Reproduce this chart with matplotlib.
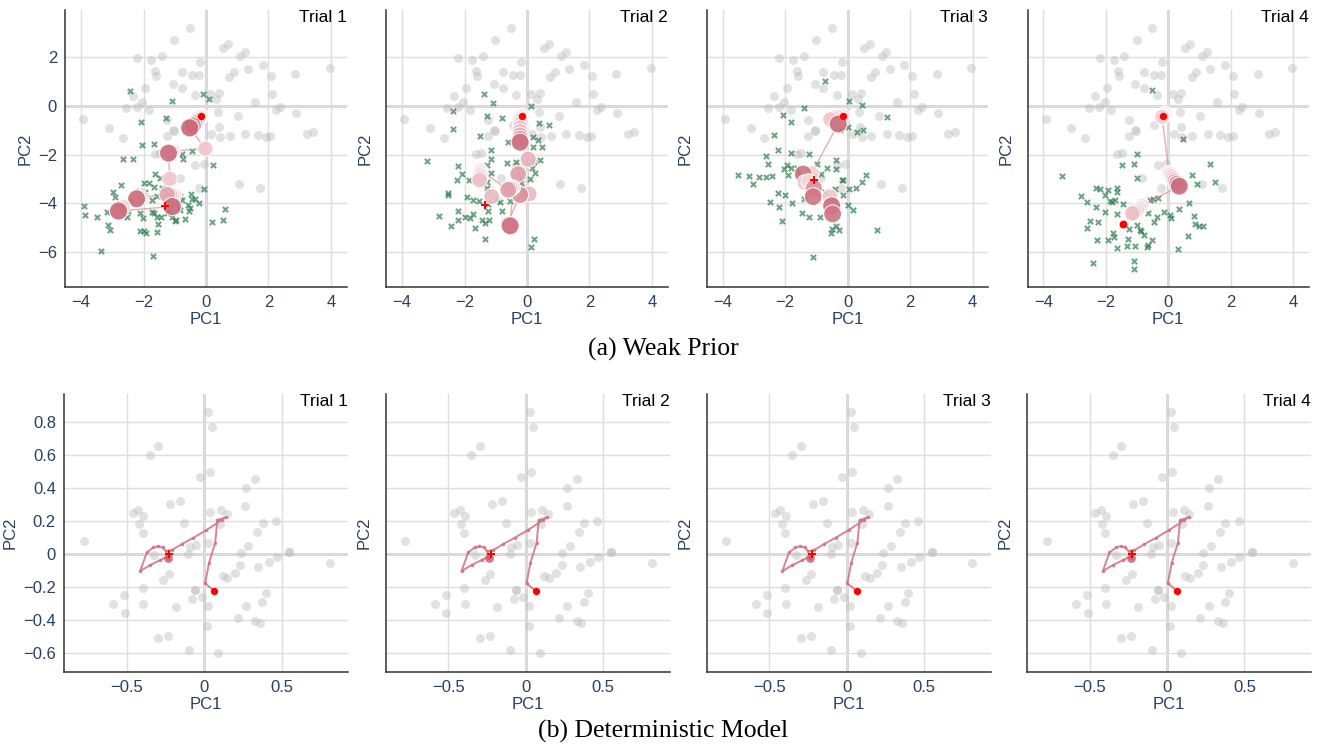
import numpy as np
import matplotlib.pyplot as plt
from matplotlib.colors import LinearSegmentedColormap

# ---- data: weak prior (top row) ----
bg_x = [-0.51, -1.01, -2.20, -1.75, -1.41, -1.62, -1.59, -0.78, -0.45, -0.22, -0.19, 0.53, 0.71, 1.09,
        1.24, 1.35, 1.82, 0.89, 0.75, 2.07, 2.86, 3.96, -1.05, -0.78, -1.95, -2.34, -2.04, -2.55, -2.21,
        -1.82, -0.35, 0.14, 0.42, 0.32, 1.57, 2.11, 2.37, 2.25, 2.89, 1.01, 0.37, -3.93, -3.10, -2.67,
        -1.26, -1.05, -1.04, 0.17, 0.41, 0.45, -0.46, -1.26, 0.76, 1.26, 1.65, 1.91, 2.06, 3.22, 3.43,
        -1.63, -1.48, -0.34, -0.07, -0.84, -0.22, 1.07, 1.73]
bg_y = [3.22, 2.73, 1.96, 1.88, 2.05, 1.44, 1.23, 1.40, 1.26, 1.27, 1.82, 2.40, 2.55, 2.05,
        2.21, 1.52, 1.68, 1.38, 1.21, 1.23, 1.33, 1.55, 0.90, 0.75, 0.73, 0.42, 0.15, -0.08, -0.05,
        -0.16, 0.45, 0.48, 0.53, 0.30, 0.18, 0.51, -0.03, -0.16, -0.30, -0.40, -0.26, -0.55, -0.90, -1.33,
        -1.22, -0.99, -1.01, -1.15, -0.88, -1.29, -0.78, -0.57, -1.22, -1.16, -1.19, -1.26, -1.22, -1.16, -1.07,
        -1.97, -1.95, -2.41, -2.37, -2.97, -3.36, -3.20, -3.38]

green1_x = [-2.43, -0.09, 0.10, -1.08, -2.08, -1.29, -2.06, -1.65, -0.78, -0.75, -0.44, 0.23, -2.65, -2.33,
            -1.63, -2.73, -1.97, -1.82, -1.95, -1.65, -1.47, -2.97, -2.91, -2.40, -2.13, -2.01, -1.74, -1.58,
            -1.42, -0.83, -0.78, -0.49, -0.46, -0.57, -0.35, -0.21, -0.06, -0.51, -0.54, -0.83, -0.97, -0.67,
            -3.90, -3.87, -3.50, -3.16, -3.15, -3.07, -2.49, -2.11, -2.03, -1.74, -1.65, -1.58, -1.45, -1.26,
            -1.10, -0.99, -1.53, -1.58, -2.11, -1.97, -1.93, -2.54, -3.37, -1.69, 0.61, 0.53, 0.18]
green1_y = [0.63, 0.48, 0.29, 0.21, -0.64, -0.51, -1.60, -1.58, -1.99, -2.19, -1.85, -2.42, -2.18, -2.19,
            -2.79, -3.25, -3.15, -3.15, -3.52, -3.34, -2.97, -3.56, -3.73, -3.93, -3.49, -3.73, -3.86, -3.70,
            -3.38, -3.70, -3.89, -3.63, -3.82, -4.07, -3.84, -4.00, -3.40, -4.21, -4.34, -4.30, -4.71, -4.66,
            -4.10, -4.48, -4.55, -4.37, -4.90, -5.12, -4.33, -4.41, -4.62, -4.38, -4.42, -4.55, -4.58, -4.41,
            -4.55, -4.75, -4.86, -5.19, -5.16, -5.14, -5.23, -4.55, -5.95, -6.16, -4.25, -4.68, -4.79]

green2_x = [-1.37, -1.08, 0.12, -2.38, -1.29, -0.81, -2.36, -1.50, 0.39, 0.71, 0.20, 0.36, 0.20, 0.47,
            -0.62, -3.21, -1.16, -1.16, -1.29, -0.63, -0.36, 0.23, 0.41, 0.15, 0.26, 0.10, -0.19, -2.20,
            -2.25, -2.07, -1.86, -1.15, -1.29, -1.29, -2.52, -2.52, -1.93, -1.74, -1.53, -0.97, -0.86, -0.54,
            -0.81, -1.24, -1.24, -2.82, -2.22, -2.20, -2.00, -1.82, -1.72, -1.43, -1.34, -1.22, -2.43, -1.66,
            -1.34, 0.23, 0.14]
green2_y = [0.48, 0.11, 0.01, -0.21, -0.41, -0.49, -0.95, -1.22, -0.68, -0.78, -1.26, -1.40, -1.67, -1.67,
            -1.49, -2.26, -1.81, -2.18, -2.42, -2.36, -2.29, -2.32, -2.22, -2.56, -2.77, -3.00, -3.18, -2.49,
            -3.04, -2.79, -3.04, -2.74, -3.11, -3.38, -3.59, -3.68, -3.75, -3.86, -3.93, -3.86, -3.97, -3.93,
            -4.34, -4.03, -4.34, -4.51, -4.34, -4.68, -4.55, -4.62, -4.45, -4.68, -4.82, -4.68, -4.96, -5.03,
            -5.47, -5.48, -5.81]

green3_x = [-0.73, 0.04, 0.47, -1.39, 1.25, -2.08, -1.81, 0.02, -0.25, 0.48, 0.29, -2.35, -2.24, -1.81,
            -1.23, -2.61, -2.54, -1.95, -2.03, -1.81, -1.63, -1.55, -0.99, -0.85, -0.67, -0.37, -0.38, -3.52,
            -3.15, -2.83, -2.61, -2.43, -3.02, -1.90, -0.19, -0.15, -0.41, 0.04, 0.26, 0.45, 0.58, -2.22,
            -2.01, -1.39, -1.31, -0.73, -2.49, -2.19, -1.77, -0.14, 0.00, 0.16, -1.47, -1.24, -0.89, -2.11,
            -0.38, -0.49, -0.27, -0.54, 0.93, -1.12]
green3_y = [1.04, 0.22, 0.03, -0.07, -0.44, -0.37, -0.64, -0.85, -0.99, -0.99, -1.07, -1.19, -1.81, -1.95,
            -1.99, -2.05, -2.40, -2.42, -2.60, -2.56, -2.56, -2.77, -2.38, -2.79, -2.56, -2.22, -2.59, -2.84,
            -2.88, -2.93, -2.93, -2.88, -3.22, -2.84, -3.04, -3.04, -3.41, -3.41, -3.38, -3.14, -2.86, -3.59,
            -3.66, -3.82, -3.52, -3.52, -3.95, -4.14, -4.00, -3.66, -4.07, -4.30, -4.41, -4.58, -4.58, -4.73,
            -4.93, -5.07, -5.12, -5.23, -5.10, -6.22]

green4_x = [-0.53, 0.46, -1.01, -1.47, -1.09, -0.99, 1.33, 0.77, 1.49, 0.93, -3.41, -2.31, -2.19, -1.92,
            -1.65, -1.63, -2.81, -2.61, -2.03, -1.87, -1.79, -1.71, -2.31, -1.46, -1.65, -2.03, -2.51, -2.61,
            -2.24, -1.76, -1.74, -1.94, -2.29, -1.63, -1.28, -1.33, -1.05, -0.69, -0.53, -0.64, -0.78, -0.91,
            -1.25, -0.87, -1.01, -0.59, -0.48, -0.34, -0.64, -0.46, -0.35, -0.14, 0.07, 0.09, 0.35, 0.67,
            0.82, 0.85, 0.99, 1.10, 0.64, 0.30, -2.40, -1.10, -1.10]
green4_y = [0.66, -1.37, -1.99, -2.42, -2.38, -2.95, -2.38, -2.84, -3.11, -3.22, -2.88, -3.36, -3.42, -3.45,
            -3.36, -3.52, -3.70, -3.97, -3.66, -3.90, -3.97, -3.86, -4.14, -4.04, -4.45, -4.38, -4.75, -5.03,
            -4.79, -5.23, -5.40, -5.51, -5.53, -5.85, -5.48, -5.78, -5.75, -5.81, -5.51, -5.71, -5.30, -5.10,
            -5.07, -5.16, -4.89, -3.86, -3.84, -3.77, -4.41, -4.79, -4.55, -4.37, -4.48, -4.62, -4.23, -4.00,
            -4.52, -4.85, -4.96, -4.93, -5.37, -5.89, -6.47, -6.37, -6.71]

# sampled trajectories: position and shade (0 = early/light, 1 = late/dark)
traj1_x = [-0.15, -0.18, -0.22, -0.28, -0.35, -0.42, -0.52, -0.02, -1.05, -1.12, -1.20, -1.16,
           -1.00, -1.08, -1.16, -1.24, -2.10, -2.22, -2.65, -2.80, -1.08]
traj1_y = [-0.40, -0.45, -0.52, -0.60, -0.70, -0.80, -0.90, -1.76, -1.85, -1.88, -1.94, -3.00,
           -3.65, -3.65, -3.64, -3.65, -3.75, -3.82, -4.15, -4.32, -4.14]
traj1_w = [0.05, 0.10, 0.15, 0.25, 0.40, 0.60, 0.90, 0.20, 0.10, 0.25, 0.85, 0.20,
           0.05, 0.15, 0.30, 0.45, 0.10, 0.85, 0.10, 0.90, 0.90]

traj2_x = [-0.16, -0.18, -0.20, -0.20, -0.22, -0.22, -0.22, -0.22, -0.22, 0.04, -0.28, 0.07, -0.22,
           -0.62, -0.54, -0.45, -0.52, -0.60, -1.50, -1.50, -1.50, -1.50, -1.52, -1.13]
traj2_y = [-0.40, -0.50, -0.60, -0.75, -0.90, -1.05, -1.20, -1.35, -1.49, -2.19, -2.80, -3.62, -3.66,
           -4.82, -4.93, -3.35, -3.40, -3.45, -2.65, -2.75, -2.85, -2.95, -3.05, -3.73]
traj2_w = [0.05, 0.10, 0.15, 0.20, 0.25, 0.30, 0.40, 0.55, 0.85, 0.35, 0.50, 0.30, 0.60,
           0.10, 0.85, 0.10, 0.25, 0.50, 0.05, 0.10, 0.15, 0.20, 0.25, 0.30]

traj3_x = [-0.16, -0.30, -0.45, -0.55, -0.30, -1.15, -1.42, -1.37, -1.25, -1.08, -1.10, -0.57, -0.51, -0.48]
traj3_y = [-0.40, -0.45, -0.50, -0.55, -0.74, -2.77, -2.80, -3.15, -3.10, -3.38, -3.73, -3.73, -4.11, -4.44]
traj3_w = [0.05, 0.10, 0.15, 0.20, 0.85, 0.15, 0.80, 0.20, 0.10, 0.60, 0.80, 0.20, 0.85, 0.80]

traj4_x = [-0.10, -0.12, -0.16, -0.20, 0.02, 0.07, 0.12, 0.17, 0.22, 0.28, 0.35,
           -0.85, -0.92, -1.00, -1.08, -1.15]
traj4_y = [-0.30, -0.38, -0.42, -0.45, -2.75, -2.82, -2.90, -3.00, -3.10, -3.20, -3.30,
           -4.10, -4.20, -4.28, -4.36, -4.42]
traj4_w = [0.05, 0.08, 0.10, 0.15, 0.05, 0.10, 0.15, 0.25, 0.40, 0.60, 0.85,
           0.05, 0.10, 0.15, 0.20, 0.25]

start_xy = (-0.16, -0.40)
end_x = [-1.32, -1.34, -1.08, -1.44]
end_y = [-4.11, -4.07, -3.04, -4.85]
end_marker = ['P', 'P', 'P', 'o']

# ---- data: deterministic model (bottom row) ----
det_bg_x = [0.026, 0.047, -0.297, -0.351, 0.034, -0.030, 0.328, 0.269, -0.155, -0.220, -0.427, -0.463,
            -0.394, -0.420, -0.399, -0.129, 0.037, 0.108, 0.144, 0.099, 0.265, 0.377, 0.463, 0.343, 0.284,
            0.235, 0.231, 0.349, 0.416, 0.468, 0.550, 0.550, 0.813, -0.778, 0.026, -0.054, -0.093, -0.103,
            0.119, 0.149, 0.198, -0.328, -0.228, -0.265, -0.399, -0.394, -0.517, -0.588, -0.513, -0.185,
            -0.060, -0.060, -0.078, -0.017, 0.024, 0.019, 0.269, 0.216, 0.328, 0.360, 0.375, 0.399, -0.297,
            -0.233, -0.099, 0.091]
det_bg_y = [0.861, 0.770, 0.653, 0.601, 0.494, 0.464, 0.454, 0.397, 0.323, 0.304, 0.266, 0.246,
            0.232, 0.181, 0.125, 0.190, 0.252, 0.266, 0.240, 0.181, 0.292, 0.185, 0.202, 0.135, 0.048,
            0.004, -0.063, -0.077, -0.046, -0.016, 0.014, 0.014, -0.052, 0.079, 0.065, 0.058, 0.044, -0.002,
            -0.131, -0.143, -0.117, -0.006, -0.123, -0.157, -0.202, -0.304, -0.248, -0.300, -0.355, -0.319,
            -0.218, -0.218, -0.272, -0.262, -0.315, -0.435, -0.315, -0.383, -0.403, -0.419, -0.292, -0.232,
            -0.506, -0.496, -0.577, -0.597]

det_path_x = [0.065, 0.005, 0.030, 0.070, 0.084, 0.140, 0.112, 0.013, -0.071, -0.146, -0.211,
              -0.249, -0.270, -0.300, -0.330, -0.372, -0.415, -0.350, -0.285, -0.243, -0.235, -0.226]
det_path_y = [-0.222, -0.177, -0.053, 0.068, 0.206, 0.222, 0.206, 0.145, 0.099, 0.060, 0.024,
              0.018, 0.040, 0.048, 0.040, 0.010, -0.103, -0.066, -0.036, -0.016, -0.025, -0.002]

trials = ['Trial 1', 'Trial 2', 'Trial 3', 'Trial 4']

# ---- styling ----
TICK_COLOR = '#2a3f5f'
GRID_COLOR = '#dedede'
ZERO_COLOR = '#c8c8c8'
pink = LinearSegmentedColormap.from_list('pink', ['#fae3e6', '#c55b6b'])

plt.rcParams['font.family'] = ['Liberation Sans', 'DejaVu Sans']

W, H = 1326, 744
fig = plt.figure(figsize=(W / 100, H / 100), dpi=100)


def style_axes(ax, xticks, xlabels, yticks, ylabels, show_y, title):
    ax.set_xticks(xticks)
    ax.set_xticklabels(xlabels)
    ax.set_yticks(yticks)
    if show_y:
        ax.set_yticklabels(ylabels)
    else:
        ax.set_yticklabels([])
    ax.tick_params(length=0, labelsize=12, colors=TICK_COLOR, pad=6)
    ax.grid(True, color=GRID_COLOR, lw=1, zorder=0)
    ax.set_axisbelow(True)
    ax.axhline(0, color=ZERO_COLOR, lw=1.8, zorder=0.5)
    ax.axvline(0, color=ZERO_COLOR, lw=1.8, zorder=0.5)
    for s in ['top', 'right']:
        ax.spines[s].set_visible(False)
    for s in ['left', 'bottom']:
        ax.spines[s].set_color('#333333')
        ax.spines[s].set_linewidth(1.1)
    ax.set_xlabel('PC1', fontsize=12, color=TICK_COLOR, labelpad=1)
    ax.set_ylabel('PC2', fontsize=12, color=TICK_COLOR, labelpad=4)
    ax.text(1.0, 1.0, title, transform=ax.transAxes, ha='right', va='top', fontsize=12.5, color='black')


top_lefts = [65.4, 386.4, 707.0, 1027.7]
greens = [(green1_x, green1_y), (green2_x, green2_y), (green3_x, green3_y), (green4_x, green4_y)]
trajs = [(traj1_x, traj1_y, traj1_w), (traj2_x, traj2_y, traj2_w),
         (traj3_x, traj3_y, traj3_w), (traj4_x, traj4_y, traj4_w)]

for i in range(4):
    ax = fig.add_axes([top_lefts[i] / W, 1 - 287 / H, 281.2 / W, 277 / H])
    ax.set_xlim(-4.5, 4.5)
    ax.set_ylim(-7.45, 3.95)
    ax.scatter(bg_x, bg_y, s=42, color='#bdbdbd', alpha=0.45, linewidths=0, zorder=2)
    gx, gy = greens[i]
    ax.scatter(gx, gy, s=14, marker='x', color='#2e7d4f', alpha=0.7, linewidths=1.5, zorder=3)
    tx, ty, tw = trajs[i]
    ax.plot(tx, ty, color='#d98c98', lw=1, alpha=0.7, zorder=4)
    tw = np.array(tw)
    ax.scatter(tx, ty, s=110 + 70 * tw, c=pink(tw), edgecolors='white', linewidths=0.8,
               alpha=0.92, zorder=5)
    ax.scatter([start_xy[0]], [start_xy[1]], s=28, color='red', zorder=7, linewidths=0)
    ax.scatter([end_x[i]], [end_y[i]], s=40 if end_marker[i] == 'P' else 32,
               marker=end_marker[i], color='red', zorder=7, linewidths=0)
    style_axes(ax, [-4, -2, 0, 2, 4], ['\u22124', '\u22122', '0', '2', '4'],
               [-6, -4, -2, 0, 2], ['\u22126', '\u22124', '\u22122', '0', '2'], i == 0, trials[i])

bot_lefts = [64.3, 385.7, 706.5, 1027.0]
for i in range(4):
    ax = fig.add_axes([bot_lefts[i] / W, 1 - 672 / H, 284 / W, 278 / H])
    ax.set_xlim(-0.905, 0.93)
    ax.set_ylim(-0.712, 0.967)
    ax.scatter(det_bg_x, det_bg_y, s=42, color='#bdbdbd', alpha=0.45, linewidths=0, zorder=2)
    ax.plot(det_path_x, det_path_y, color='#d0707f', lw=1.4, alpha=0.85, zorder=4,
            marker='o', markersize=2.5, markeredgewidth=0)
    ax.scatter([det_path_x[-2]], [det_path_y[-2]], s=40, color='#c55b6b', alpha=0.8, zorder=5, linewidths=0)
    ax.scatter([det_path_x[0]], [det_path_y[0]], s=28, color='red', zorder=7, linewidths=0)
    ax.scatter([det_path_x[-1]], [det_path_y[-1]], s=40, marker='P', color='red', zorder=7, linewidths=0)
    style_axes(ax, [-0.5, 0, 0.5], ['\u22120.5', '0', '0.5'],
               [-0.6, -0.4, -0.2, 0, 0.2, 0.4, 0.6, 0.8],
               ['\u22120.6', '\u22120.4', '\u22120.2', '0', '0.2', '0.4', '0.6', '0.8'], i == 0, trials[i])

fig.text(0.5, 1 - 349 / H, '(a) Weak Prior', ha='center', va='center', fontsize=18.5,
         family=['Liberation Serif', 'DejaVu Serif'])
fig.text(0.5, 1 - 731 / H, '(b) Deterministic Model', ha='center', va='center', fontsize=18.5,
         family=['Liberation Serif', 'DejaVu Serif'])

fig.savefig('out.png', dpi=100)
